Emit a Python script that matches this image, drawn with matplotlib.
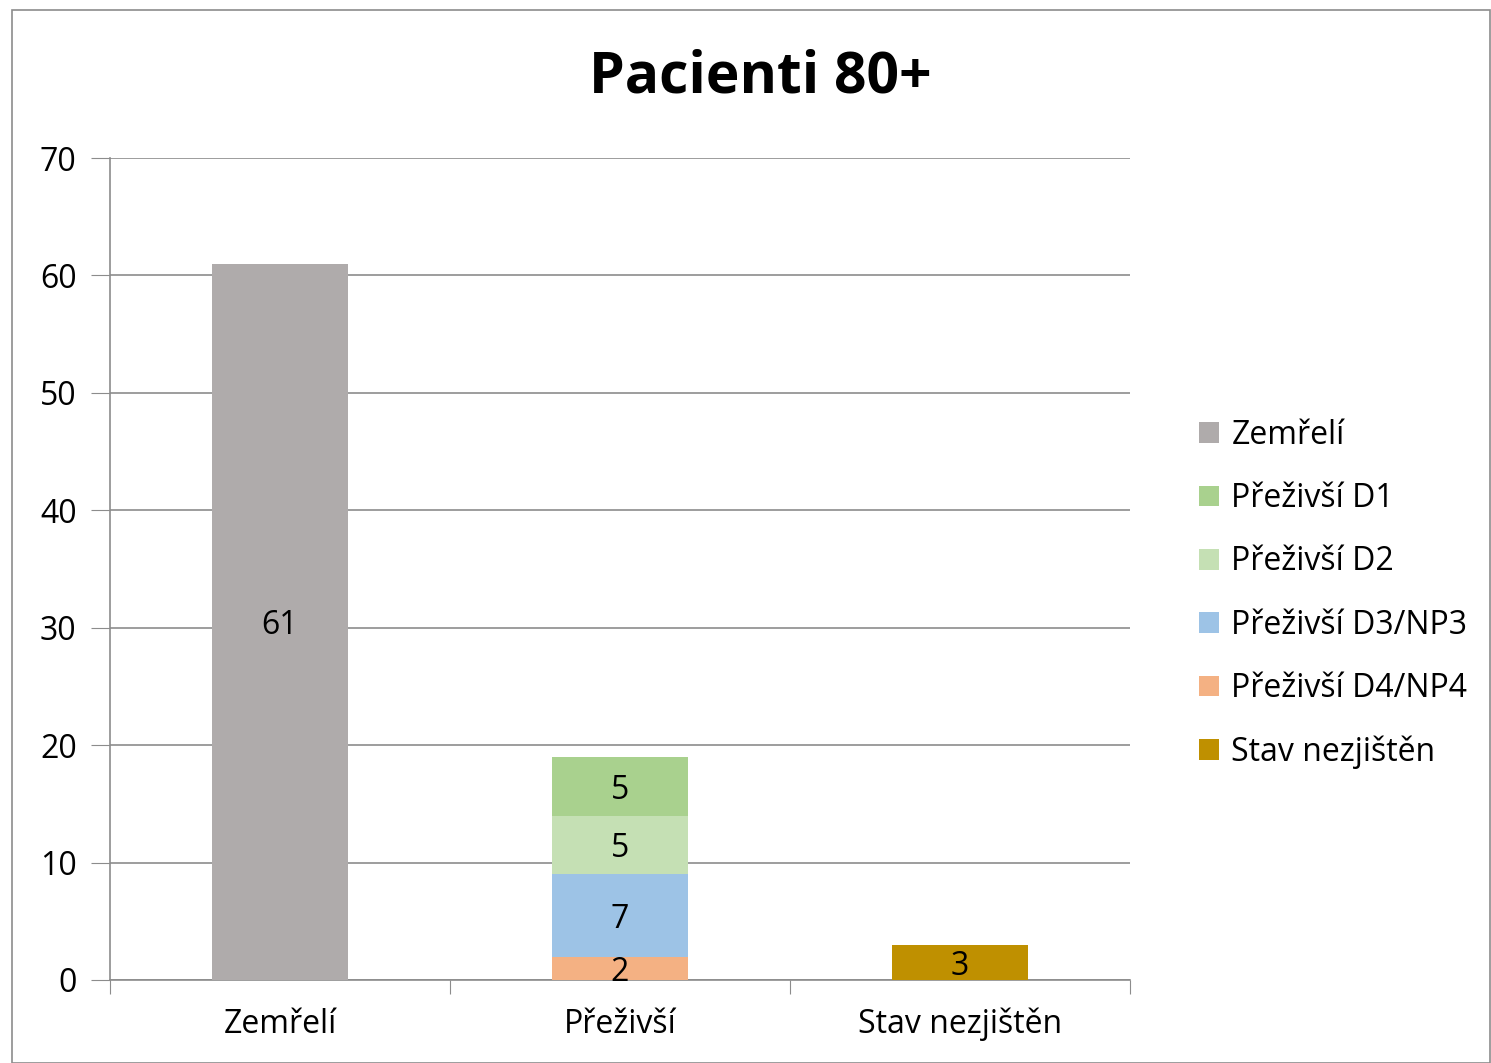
import matplotlib.pyplot as plt
from matplotlib.patches import Rectangle

plt.rcParams['font.family'] = ['Open Sans', 'DejaVu Sans']

categories = ['Zemřelí', 'Přeživší', 'Stav nezjištěn']
series_names = ['Zemřelí', 'Přeživší D1', 'Přeživší D2', 'Přeživší D3/NP3', 'Přeživší D4/NP4', 'Stav nezjištěn']
zemreli = [61, 0, 0]
d1 = [0, 5, 0]
d2 = [0, 5, 0]
d3 = [0, 7, 0]
d4 = [0, 2, 0]
nezjisten = [0, 0, 3]
yticks = [0, 10, 20, 30, 40, 50, 60, 70]

colors = {'Zemřelí': '#AFABAB', 'Přeživší D1': '#A9D18E', 'Přeživší D2': '#C5E0B4',
          'Přeživší D3/NP3': '#9DC3E6', 'Přeživší D4/NP4': '#F4B183', 'Stav nezjištěn': '#BF9000'}

FS = 23

fig = plt.figure(figsize=(14.91, 10.63), dpi=100)
fig.patches.append(Rectangle((12/1491, 0), 1 - 12/1491 - 0.0005, 1 - 10/1063, transform=fig.transFigure,
                             fill=False, edgecolor='#8C8C8C', linewidth=1.2))
ax = fig.add_axes([110/1491, 1 - 980/1063, (1130-110)/1491, (980-158)/1063])

x = range(len(categories))
w = 0.4
stack = [('Zemřelí', zemreli), ('Přeživší D4/NP4', d4), ('Přeživší D3/NP3', d3),
         ('Přeživší D2', d2), ('Přeživší D1', d1), ('Stav nezjištěn', nezjisten)]
bottom = [0, 0, 0]
handles = {}
for name, vals in stack:
    bars = ax.bar(x, vals, w, bottom=bottom, color=colors[name], label=name, zorder=3)
    handles[name] = bars
    for i, v in enumerate(vals):
        if v > 0:
            ax.text(i, bottom[i] + v / 2, str(v), ha='center', va='center_baseline', fontsize=FS, zorder=4)
    bottom = [b + v for b, v in zip(bottom, vals)]

ax.set_xlim(-0.5, 2.5)
ax.set_ylim(0, 70)
ax.set_yticks(yticks)
ax.set_yticklabels([str(t) for t in yticks], fontsize=FS)
ax.yaxis.grid(True, color='#8C8C8C', linewidth=1.2, zorder=0)
ax.set_axisbelow(True)
ax.set_xticks([-0.5, 0.5, 1.5, 2.5])
ax.set_xticklabels([])
ax.set_xticks(list(x), minor=True)
ax.set_xticklabels(categories, minor=True, fontsize=FS)
ax.tick_params(axis='x', which='minor', length=0, pad=20)
ax.tick_params(axis='x', which='major', length=10, color='#8C8C8C', direction='out')
ax.tick_params(axis='y', length=14, color='#8C8C8C', pad=10)
for s in ['top', 'right']:
    ax.spines[s].set_visible(False)
for s in ['left', 'bottom']:
    ax.spines[s].set_color('#8C8C8C')
    ax.spines[s].set_linewidth(1.2)

fig.text(760/1491, 1 - 78/1063, 'Pacienti 80+', ha='center', va='center', fontsize=41, fontweight='bold')

leg = fig.legend([handles[n] for n in series_names], series_names, loc='upper left',
                 bbox_to_anchor=(1170/1491, 1 - 390/1063), frameon=False, fontsize=FS,
                 handlelength=0.62, handleheight=0.62, labelspacing=0.95, handletextpad=0.4)

fig.savefig('out.png', dpi=100)
